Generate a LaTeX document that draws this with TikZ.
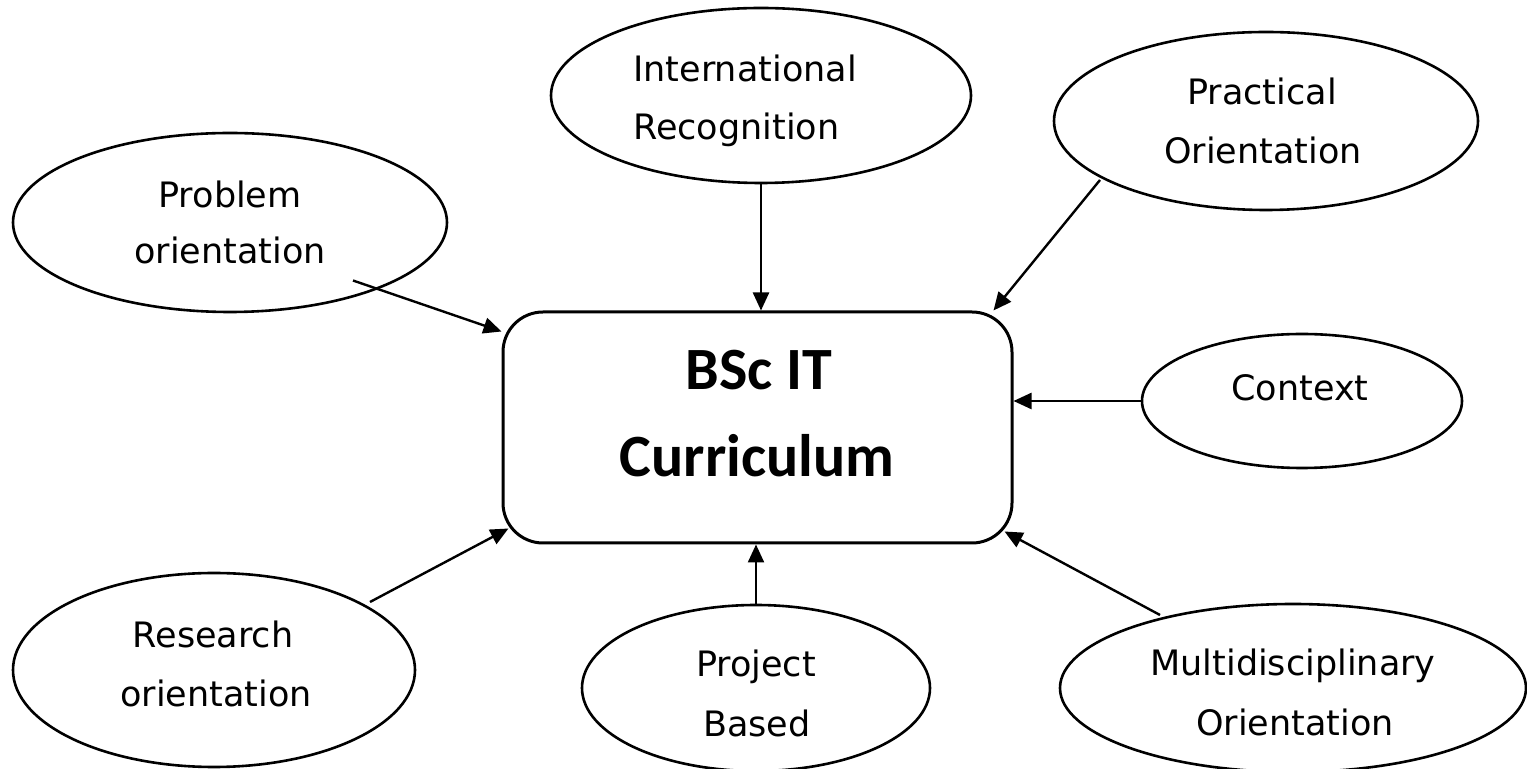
\documentclass[tikz,border=0pt]{standalone}
\usepackage{fontspec}
\setmainfont{DejaVu Sans}
\newfontfamily\boxfont{Carlito}
\usetikzlibrary{shapes.geometric,arrows.meta,calc}
\begin{document}
\begin{tikzpicture}[x=0.5pt,y=-0.5pt,
  oval/.style={draw,ellipse,line width=1.3pt,inner sep=0pt,fill=white},
  lbl/.style={anchor=base,inner sep=0pt,font=\fontsize{17.5pt}{21pt}\selectfont},
  boxlbl/.style={anchor=base,inner sep=0pt,font=\boxfont\bfseries\fontsize{30pt}{36pt}\selectfont},
  arr/.style={line width=1.2pt,-{Triangle[length=9pt,width=8pt]}}]
\useasboundingbox (0,0) rectangle (1527,769);
\fill[white] (0,0) rectangle (1527,769);
% central box
\node[draw,rounded corners=20pt,line width=1.5pt,minimum width=254.5pt,minimum height=115.5pt] (box) at (757.5,427.5) {};
\node[boxlbl] (boxA) at (759,390) {BSc IT};
\node[boxlbl] (boxB) at (757,477) {Curriculum};
% ellipses
\node[oval,minimum width=217pt,minimum height=89.5pt] (prob) at (230,222.5) {};
\node[oval,minimum width=210pt,minimum height=87.5pt] (intl) at (761,95.5) {};
\node[oval,minimum width=212pt,minimum height=89pt] (prac) at (1266,121) {};
\node[oval,minimum width=160pt,minimum height=67pt] (ctx) at (1302,401) {};
\node[oval,minimum width=201pt,minimum height=97pt] (res) at (214,670) {};
\node[oval,minimum width=174pt,minimum height=83pt] (proj) at (756,688) {};
\node[oval,minimum width=233pt,minimum height=84pt] (multi) at (1293,688) {};
% labels
\node[lbl] (probA) at (230,208) {Problem};
\node[lbl] (probB) at (230,264) {orientation};
\node[lbl,anchor=base west] (intlA) at (633,82) {International};
\node[lbl,anchor=base west] (intlB) at (633,140) {Recognition};
\node[lbl] (pracA) at (1262,105) {Practical};
\node[lbl] (pracB) at (1263,164) {Orientation};
\node[lbl] (ctxA) at (1300,401) {Context};
\node[lbl] (resA) at (213,648) {Research};
\node[lbl] (resB) at (216,707) {orientation};
\node[lbl] (projA) at (756,677) {Project};
\node[lbl] (projB) at (757,737) {Based};
\node[lbl] (multiA) at (1293,676) {Multidisciplinary};
\node[lbl] (multiB) at (1295,736) {Orientation};
% connectors
\draw[arr] ($(prob.center)+(123,58)$) -- ($(box.north west)+(0,21)$);
\draw[arr] (intl.south) -- (intl.south |- box.north);
\draw[arr] ($(prac.center)+(-166,59)$) -- ($(box.north east)+(-20,0)$);
\draw[arr] (ctx.west) -- (ctx.west -| box.east);
\draw[arr] ($(res.center)+(156,-68)$) -- ($(box.south west)+(7,-16)$);
\draw[arr] (proj.north) -- (proj.north |- box.south);
\draw[arr] ($(multi.center)+(-133,-73)$) -- ($(box.south east)+(-9,-13)$);
\end{tikzpicture}
\end{document}
